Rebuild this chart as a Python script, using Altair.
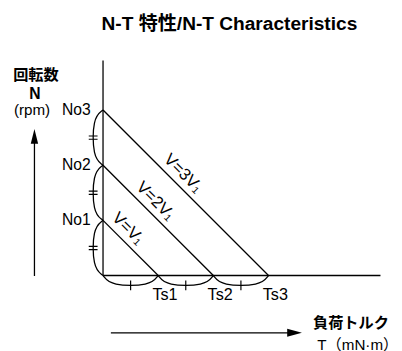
import altair as alt
import pandas as pd

# ---------------- data (relative units) ----------------
N_LABELS = ["No1", "No2", "No3"]
N_VALUES = [1.0, 2.0, 3.0]          # no-load speeds
T_LABELS = ["Ts1", "Ts2", "Ts3"]
T_VALUES = [1.0, 2.0, 3.0]          # stall torques
V_LABELS = ["V=V₁", "V=2V₁", "V=3V₁"]
T_AXIS_END = 5.03
N_AXIS_END = 3.9

TITLE = "N-T 特性/N-T Characteristics"
Y_TITLE = ["回転数", "N", "(rpm)"]
X_TITLE = ["負荷トルク", "T（mN·m）"]

# ---------------- layout / style ----------------
W, H = 394, 343
PX = 56.3                      # pixels per unit
X0_PX, Y0_PX = 97.0, 269.5     # origin position inside the view
FONT = "Liberation Sans, Noto Sans CJK JP, sans-serif"
LW = 1.3
BULGE = 10.5 / PX              # bracket bulge (units)
LABEL_DIAG = -0.4              # line labels sit where T - N == LABEL_DIAG

xs = alt.Scale(domain=[-X0_PX / PX, (W - X0_PX) / PX], nice=False, zero=False)
ys = alt.Scale(domain=[-(H - Y0_PX) / PX, Y0_PX / PX], nice=False, zero=False)


def X(f):
    return alt.X(f, type="quantitative", scale=xs, axis=None)


def Y(f):
    return alt.Y(f, type="quantitative", scale=ys, axis=None)


# axes
axes_df = pd.DataFrame({"x": [0.0, 0.0], "y": [0.0, 0.0],
                        "x2": [0.0, T_AXIS_END], "y2": [N_AXIS_END, 0.0]})
axes = alt.Chart(axes_df).mark_rule(color="black", strokeWidth=LW).encode(
    x=X("x"), y=Y("y"), x2="x2", y2="y2")

# characteristic lines
lines_df = pd.DataFrame({"label": V_LABELS, "N": N_VALUES, "T": T_VALUES,
                         "zero": [0.0] * 3})
vlines = alt.Chart(lines_df).mark_rule(color="black", strokeWidth=LW).encode(
    x=X("zero"), y=Y("N"), x2="T", y2="zero")

# brackets
rows = []
marks_left, marks_bottom = [], []
for side, vals in (("left", N_VALUES), ("bottom", T_VALUES)):
    bounds = [0.0] + list(vals)
    for i in range(len(bounds) - 1):
        a, b = bounds[i], bounds[i + 1]
        d = 0.14 * (b - a)
        along = [a, a + d, b - d, b]
        across = [0.0, -BULGE, -BULGE, 0.0]
        for k, (p, q) in enumerate(zip(along, across)):
            if side == "left":
                rows.append({"seg": f"L{i}", "k": k, "x": q, "y": p})
            else:
                rows.append({"seg": f"B{i}", "k": k, "x": p, "y": q})
        mid = (a + b) / 2
        if side == "left":
            marks_left.append({"x": -BULGE * 0.96, "y": mid})
        else:
            marks_bottom.append({"x": mid, "y": -BULGE * 0.96})
arcs = alt.Chart(pd.DataFrame(rows)).mark_line(
    interpolate="basis", color="black", strokeWidth=LW).encode(
    x=X("x"), y=Y("y"), detail="seg:N", order="k:Q")

eq_marks = alt.Chart(pd.DataFrame(marks_left)).mark_point(
    shape="M-1,-0.37L1,-0.37M-1,0.37L1,0.37", size=81, filled=False,
    color="black", strokeWidth=1.2, opacity=1).encode(x=X("x"), y=Y("y"))
bar_marks = alt.Chart(pd.DataFrame(marks_bottom)).mark_point(
    shape="M0,-1L0,1", size=100, filled=False,
    color="black", strokeWidth=1.2, opacity=1).encode(x=X("x"), y=Y("y"))

# labels
n_df = pd.DataFrame({"t": N_LABELS, "y": N_VALUES, "x": [0.0] * 3})
n_lab = alt.Chart(n_df).mark_text(
    align="left", baseline="middle", dx=-42, font=FONT, fontSize=16, color="black").encode(
    x=X("x"), y=Y("y"), text="t:N")
t_lab = alt.Chart(pd.DataFrame({"t": T_LABELS, "x": T_VALUES, "y": [0.0] * 3})).mark_text(
    align="center", baseline="middle", dx=7, dy=20, font=FONT, fontSize=16.5, color="black").encode(
    x=X("x"), y=Y("y"), text="t:N")

vl_df = pd.DataFrame({"t": V_LABELS,
                      "x": [(t + LABEL_DIAG) / 2 for t in T_VALUES],
                      "y": [(n - LABEL_DIAG) / 2 for n in N_VALUES]})
v_lab = alt.Chart(vl_df).mark_text(
    align="center", baseline="middle", angle=45, dy=-12, font=FONT, fontSize=17,
    color="black").encode(x=X("x"), y=Y("y"), text="t:N")

one = alt.Data(values=[{}])


def txt(s, x, y, size=15, weight="normal"):
    return alt.Chart(one).mark_text(
        text=s, align="center", baseline="middle", font=FONT, fontSize=size,
        fontWeight=weight, color="black").encode(x=alt.value(x), y=alt.value(y))


title = txt(TITLE, 226, 13, size=19.5, weight="bold")
yt = [txt(Y_TITLE[0], 28.5, 64.5, 15.5, "bold"), txt(Y_TITLE[1], 27.5, 84, 16, "bold"),
      txt(Y_TITLE[2], 24.5, 101, 15.5)]
xt = [txt(X_TITLE[0], 350, 318.5, 15.5, "bold"), txt(X_TITLE[1], 357, 341, 15.5)]

# arrows
up_shaft = alt.Chart(one).mark_rule(color="black", strokeWidth=LW).encode(
    x=alt.value(27), y=alt.value(270), y2=alt.value(132))
up_head = alt.Chart(one).mark_point(
    shape="M0,-1L0.5,1L-0.5,1Z", size=225, filled=True, color="black", opacity=1).encode(
    x=alt.value(27), y=alt.value(127.5))
rt_shaft = alt.Chart(one).mark_rule(color="black", strokeWidth=LW).encode(
    x=alt.value(105), x2=alt.value(288), y=alt.value(328))
rt_head = alt.Chart(one).mark_point(
    shape="M1,0L-1,-0.55L-1,0.55Z", size=225, filled=True, color="black", opacity=1).encode(
    x=alt.value(292.5), y=alt.value(328))

chart = alt.layer(
    axes, vlines, arcs, eq_marks, bar_marks, n_lab, t_lab, v_lab,
    title, *yt, *xt, up_shaft, up_head, rt_shaft, rt_head
).properties(
    width=W, height=H, padding=0, autosize=alt.AutoSizeParams(type="none"),
    background="white"
).configure_view(stroke=None)

chart.save("out.html", embed_options={"renderer": "svg", "actions": False})
